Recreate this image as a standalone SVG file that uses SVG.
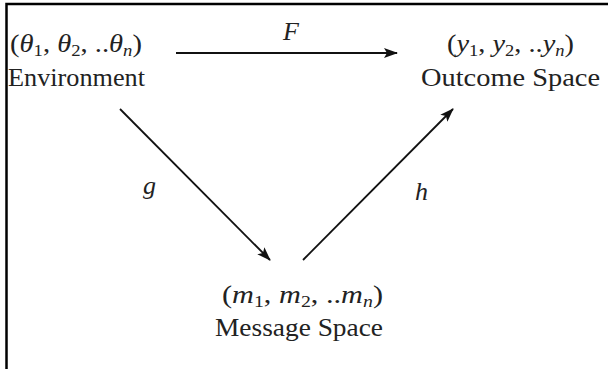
<svg xmlns="http://www.w3.org/2000/svg" width="608" height="369" viewBox="0 0 608 369">
<style>
.t{font-family:"Liberation Serif","DejaVu Serif",serif;font-size:26px;fill:#222}
.i{font-style:italic}
.s{font-size:17px}
.e{stroke:#111;stroke-width:1.8;fill:none}
</style>
<defs>
<marker id="ah" markerUnits="userSpaceOnUse" markerWidth="16" markerHeight="12" refX="13" refY="5" orient="auto">
<path d="M0,0 L14,5 L0,10 L3,5 Z" fill="#111"/>
</marker>
</defs>
<rect width="608" height="369" fill="#fff"/>
<path d="M6.5,369 V4 H608" fill="none" stroke="#000" stroke-width="2.5"/>
<g id="environment">
<text class="t" x="10" y="52" textLength="132" lengthAdjust="spacingAndGlyphs">(<tspan class="i">θ</tspan><tspan class="s" dy="4">1</tspan><tspan dy="-4">, </tspan><tspan class="i">θ</tspan><tspan class="s" dy="4">2</tspan><tspan dy="-4">, ..</tspan><tspan class="i">θ</tspan><tspan class="s i" dy="4">n</tspan><tspan dy="-4">)</tspan></text>
<text class="t" x="8" y="86" textLength="137" lengthAdjust="spacingAndGlyphs">Environment</text>
</g>
<g id="outcome">
<text class="t" x="447" y="52" textLength="127" lengthAdjust="spacingAndGlyphs">(<tspan class="i">y</tspan><tspan class="s" dy="4">1</tspan><tspan dy="-4">, </tspan><tspan class="i">y</tspan><tspan class="s" dy="4">2</tspan><tspan dy="-4">, ..</tspan><tspan class="i">y</tspan><tspan class="s i" dy="4">n</tspan><tspan dy="-4">)</tspan></text>
<text class="t" x="421" y="86" textLength="179" lengthAdjust="spacingAndGlyphs">Outcome Space</text>
</g>
<g id="message">
<text class="t" x="222" y="303" textLength="161" lengthAdjust="spacingAndGlyphs">(<tspan class="i">m</tspan><tspan class="s" dy="4">1</tspan><tspan dy="-4">, </tspan><tspan class="i">m</tspan><tspan class="s" dy="4">2</tspan><tspan dy="-4">, ..</tspan><tspan class="i">m</tspan><tspan class="s i" dy="4">n</tspan><tspan dy="-4">)</tspan></text>
<text class="t" x="215" y="336" textLength="168" lengthAdjust="spacingAndGlyphs">Message Space</text>
</g>
<g id="connectors">
<line class="e" x1="176" y1="53" x2="397" y2="53" marker-end="url(#ah)"/>
<line class="e" x1="120" y1="109" x2="270" y2="260" marker-end="url(#ah)"/>
<line class="e" x1="303" y1="260" x2="453" y2="109" marker-end="url(#ah)"/>
<text class="t i" x="283" y="40">F</text>
<text class="t i" x="143" y="194">g</text>
<text class="t i" x="415" y="200">h</text>
</g>
</svg>
